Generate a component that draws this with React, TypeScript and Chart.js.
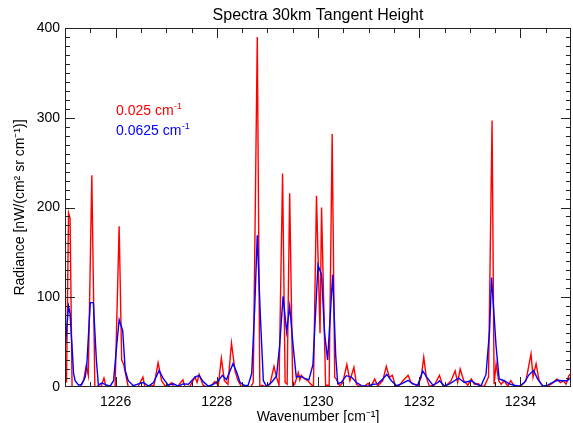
import React, { useEffect, useRef } from 'react';
import { Chart, registerables } from 'chart.js';

Chart.register(...registerables);

// 0.025 cm^-1 resolution spectrum: [wavenumber, radiance]
const red025: [number, number][] = [
  [1225.00,33],[1225.03,5],[1225.07,194],[1225.10,188],[1225.14,0],[1225.20,0],[1225.30,0],[1225.37,8],[1225.42,24],[1225.46,13],
  [1225.53,236],[1225.59,0],[1225.67,1],[1225.71,0],[1225.77,10],[1225.81,0],[1225.89,1],[1225.99,0],[1226.07,179],[1226.12,30],
  [1226.16,25],[1226.25,0],[1226.35,1],[1226.44,0],[1226.54,11],[1226.58,0],[1226.68,1],[1226.76,2],[1226.84,27],[1226.91,7],
  [1226.98,1],[1227.04,2],[1227.11,5],[1227.15,0],[1227.23,1],[1227.33,8],[1227.37,0],[1227.47,1],[1227.57,11],[1227.61,5],
  [1227.65,14],[1227.73,2],[1227.80,0],[1227.88,1],[1227.96,6],[1228.03,2],[1228.09,32],[1228.15,7],[1228.22,3],[1228.29,49],
  [1228.36,18],[1228.42,7],[1228.49,0],[1228.59,1],[1228.67,0],[1228.72,5],[1228.80,390],[1228.85,0],[1228.89,2],[1228.97,0],
  [1229.05,3],[1229.13,23],[1229.18,11],[1229.23,2],[1229.30,238],[1229.35,5],[1229.39,3],[1229.44,216],[1229.50,2],[1229.54,3],
  [1229.61,16],[1229.64,8],[1229.67,13],[1229.74,9],[1229.80,7],[1229.86,3],[1229.91,0],[1229.97,213],[1230.04,60],[1230.07,200],
  [1230.15,2],[1230.22,2],[1230.28,282],[1230.33,11],[1230.36,9],[1230.43,1],[1230.49,5],[1230.57,25],[1230.63,7],[1230.71,22],
  [1230.76,3],[1230.82,1],[1230.89,0],[1230.99,4],[1231.05,1],[1231.12,9],[1231.18,1],[1231.28,7],[1231.35,23],[1231.41,11],
  [1231.47,13],[1231.53,1],[1231.61,2],[1231.68,7],[1231.78,13],[1231.84,5],[1231.91,3],[1231.97,1],[1232.04,11],[1232.09,33],
  [1232.14,11],[1232.20,1],[1232.30,2],[1232.40,13],[1232.47,1],[1232.54,2],[1232.63,7],[1232.71,18],[1232.76,5],[1232.81,20],
  [1232.88,7],[1232.96,2],[1233.03,9],[1233.09,3],[1233.16,4],[1233.22,1],[1233.29,1],[1233.37,11],[1233.44,297],[1233.48,3],
  [1233.52,26],[1233.57,7],[1233.62,3],[1233.68,7],[1233.75,1],[1233.81,7],[1233.88,1],[1234.01,1],[1234.11,7],[1234.21,37],
  [1234.25,11],[1234.31,26],[1234.37,7],[1234.44,1],[1234.54,1],[1234.63,4],[1234.72,9],[1234.79,5],[1234.85,7],[1234.90,3],
  [1234.96,13],[1235.00,15],
];

// 0.0625 cm^-1 resolution spectrum: [wavenumber, radiance]
const blue0625: [number, number][] = [
  [1225.00,41],[1225.07,90],[1225.10,82],[1225.17,15],[1225.20,7],[1225.27,2],[1225.33,3],[1225.40,11],[1225.43,24],[1225.50,94],
  [1225.56,94],[1225.62,30],[1225.66,2],[1225.73,4.5],[1225.79,3],[1225.89,1],[1225.96,7],[1226.02,45],[1226.07,75],[1226.14,63],
  [1226.19,18.5],[1226.25,7],[1226.35,1.5],[1226.48,4],[1226.55,5],[1226.65,1],[1226.75,5],[1226.86,18.5],[1226.94,9.5],[1227.04,2],
  [1227.14,3.5],[1227.24,1],[1227.33,3.5],[1227.44,3],[1227.57,11],[1227.65,13],[1227.73,6],[1227.83,1],[1227.93,3],[1228.03,7],
  [1228.11,13],[1228.19,8],[1228.32,26],[1228.39,17],[1228.46,5],[1228.55,1.5],[1228.62,2],[1228.69,15],[1228.75,90],[1228.80,169],
  [1228.86,80],[1228.92,7],[1228.98,1],[1229.08,5],[1229.18,12],[1229.24,45],[1229.31,101],[1229.38,61.5],[1229.44,90],[1229.51,45],
  [1229.57,11],[1229.64,12],[1229.74,9.6],[1229.82,8],[1229.90,25],[1230.00,136],[1230.07,125],[1230.13,60],[1230.19,30],[1230.29,125],
  [1230.35,35],[1230.39,3.5],[1230.46,5],[1230.56,12.6],[1230.66,11],[1230.76,5],[1230.86,1.5],[1230.99,1],[1231.09,3],[1231.18,3.5],
  [1231.28,9],[1231.36,14],[1231.45,7],[1231.55,1.5],[1231.65,3.5],[1231.78,7.5],[1231.87,3.5],[1231.97,2],[1232.07,17.7],[1232.15,11],
  [1232.27,2],[1232.37,5],[1232.40,7],[1232.50,1],[1232.60,3.5],[1232.78,10],[1232.89,5],[1233.03,7],[1233.12,3.5],[1233.22,1],
  [1233.32,14],[1233.39,62],[1233.43,122],[1233.52,45],[1233.58,9],[1233.68,7],[1233.78,3.5],[1233.88,2],[1233.98,1],[1234.08,5],
  [1234.16,13],[1234.26,18.5],[1234.34,9],[1234.44,1],[1234.54,2],[1234.63,5],[1234.73,7.5],[1234.83,7],[1234.93,7],[1235.00,11],
];

const xTickValues = [1226, 1228, 1230, 1232, 1234];
const yTickValues = [0, 100, 200, 300, 400];
const xRange = [1225, 1235];
const yRange = [0, 400];
const xMinorStep = 0.5;
const xMajorStep = 2;
const yMinorStep = 10;
const yMajorStep = 100;

const chartTitle = 'Spectra 30km Tangent Height';
const xAxisTitle = 'Wavenumber [cm\u207B\u00B9]';
const yAxisTitle = 'Radiance [nW/(cm\u00B2 sr cm\u207B\u00B9)]';
const legendItems = [
  { text: '0.025 cm', sup: '-1', color: '#ff0000' },
  { text: '0.0625 cm', sup: '-1', color: '#0000ff' },
];

const FONT = '"Liberation Sans", Arial, Helvetica, sans-serif';

const framePlugin = {
  id: 'idlFrame',
  afterDatasetsDraw(chart: any) {
    const { ctx, chartArea } = chart;
    const { left, right, top, bottom } = chartArea;
    const x = chart.scales.x;
    const y = chart.scales.y;
    ctx.save();
    ctx.strokeStyle = '#222';
    ctx.lineWidth = 1;
    ctx.strokeRect(left + 0.5, top + 0.5, right - left - 1, bottom - top - 1);
    ctx.beginPath();
    const nx = Math.round((xRange[1] - xRange[0]) / xMinorStep);
    for (let i = 1; i < nx; i++) {
      const v = xRange[0] + i * xMinorStep;
      const major = Math.abs(v / xMajorStep - Math.round(v / xMajorStep)) < 1e-6;
      const len = major ? 10 : 5;
      const px = Math.round(x.getPixelForValue(v)) + 0.5;
      ctx.moveTo(px, bottom);
      ctx.lineTo(px, bottom - len);
      ctx.moveTo(px, top);
      ctx.lineTo(px, top + len);
    }
    const ny = Math.round((yRange[1] - yRange[0]) / yMinorStep);
    for (let i = 1; i < ny; i++) {
      const v = yRange[0] + i * yMinorStep;
      const major = Math.abs(v / yMajorStep - Math.round(v / yMajorStep)) < 1e-6;
      const len = major ? 10 : 5;
      const py = Math.round(y.getPixelForValue(v)) + 0.5;
      ctx.moveTo(left, py);
      ctx.lineTo(left + len, py);
      ctx.moveTo(right, py);
      ctx.lineTo(right - len, py);
    }
    ctx.stroke();

    // legend text
    const lx = left + 51;
    let ly = top + 87;
    ctx.textBaseline = 'alphabetic';
    ctx.textAlign = 'left';
    for (const item of legendItems) {
      ctx.fillStyle = item.color;
      ctx.font = `14px ${FONT}`;
      ctx.fillText(item.text, lx, ly);
      const w = ctx.measureText(item.text).width;
      ctx.font = `9px ${FONT}`;
      ctx.fillText(item.sup, lx + w + 0.5, ly - 6);
      ly += 20;
    }
    ctx.restore();
  },
};

export default function App() {
  const ref = useRef<HTMLCanvasElement>(null);
  useEffect(() => {
    const canvas = ref.current;
    if (!canvas) return;
    const chart = new Chart(canvas, {
      type: 'line',
      data: {
        datasets: [
          {
            label: '0.0625 cm-1',
            data: blue0625.map(([x, y]) => ({ x, y })),
            borderColor: '#0000ff',
            borderWidth: 1.4,
            pointRadius: 0,
            tension: 0,
            order: 1,
          },
          {
            label: '0.025 cm-1',
            data: red025.map(([x, y]) => ({ x, y })),
            borderColor: '#ff0000',
            borderWidth: 1.4,
            pointRadius: 0,
            tension: 0,
            order: 2,
          },
        ],
      },
      options: {
        animation: false,
        responsive: false,
        layout: { padding: { left: 0, right: 2, top: 0, bottom: 0 } },
        plugins: {
          legend: { display: false },
          tooltip: { enabled: false },
          title: {
            display: true,
            text: chartTitle,
            color: '#000',
            fullSize: false,
            font: { family: FONT, size: 16, weight: 'normal' },
            padding: { top: 6, bottom: 2.8 },
          },
        },
        scales: {
          x: {
            type: 'linear',
            min: xRange[0],
            max: xRange[1],
            grid: { display: false, drawTicks: false },
            border: { display: false },
            ticks: {
              color: '#000',
              font: { family: FONT, size: 14 },
              padding: 7,
              maxRotation: 0,
              autoSkip: false,
              callback: (v: any) => String(v),
            },
            afterBuildTicks: (s: any) => {
              s.ticks = xTickValues.map((value) => ({ value }));
            },
            afterFit: (s: any) => {
              s.height = 36;
            },
            title: {
              display: true,
              text: xAxisTitle,
              color: '#000',
              font: { family: FONT, size: 14 },
              padding: { top: 0, bottom: -3 },
            },
          },
          y: {
            type: 'linear',
            min: yRange[0],
            max: yRange[1],
            grid: { display: false, drawTicks: false },
            border: { display: false },
            ticks: {
              color: '#000',
              font: { family: FONT, size: 14 },
              padding: 5,
              callback: (v: any) => String(v),
            },
            afterBuildTicks: (s: any) => {
              s.ticks = yTickValues.map((value) => ({ value }));
            },
            afterFit: (s: any) => {
              s.width = 65;
            },
            title: {
              display: true,
              text: yAxisTitle,
              color: '#000',
              font: { family: FONT, size: 14 },
              padding: { top: 12, bottom: 0 },
            },
          },
        },
      } as any,
      plugins: [framePlugin],
    });
    return () => chart.destroy();
  }, []);
  return (
    <div style={{ position: 'fixed', left: 0, top: 0, width: 573, height: 423, background: '#fff' }}>
      <canvas ref={ref} width={573} height={423} style={{ display: 'block' }} />
    </div>
  );
}
